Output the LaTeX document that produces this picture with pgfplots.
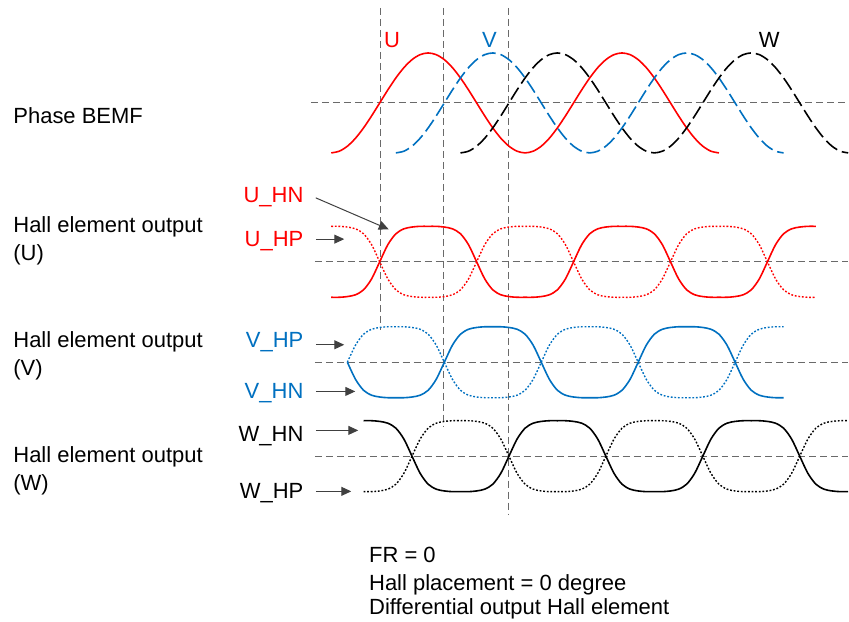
\documentclass[border=0pt]{standalone}
\usepackage{pgfplots}
\pgfplotsset{compat=1.18}
\usepackage{pgfplotstable}
\usepackage{fontspec}
\setmainfont{Liberation Sans}
\usetikzlibrary{arrows.meta}

\definecolor{phU}{HTML}{FF0000}
\definecolor{phV}{HTML}{0070C0}
\definecolor{refgray}{HTML}{6A6A6A}
\definecolor{arrgray}{HTML}{404040}

% phase BEMF, angle in electrical degrees (U, V, W share one shape)
\pgfplotstableread{
t tv tw s
-90 30 150 -1
-75 45 165 -0.9659
-60 60 180 -0.8660
-45 75 195 -0.7071
-30 90 210 -0.5
-15 105 225 -0.2588
0 120 240 0
15 135 255 0.2588
30 150 270 0.5
45 165 285 0.7071
60 180 300 0.8660
75 195 315 0.9659
90 210 330 1
105 225 345 0.9659
120 240 360 0.8660
135 255 375 0.7071
150 270 390 0.5
165 285 405 0.2588
180 300 420 0
195 315 435 -0.2588
210 330 450 -0.5
225 345 465 -0.7071
240 360 480 -0.8660
255 375 495 -0.9659
270 390 510 -1
285 405 525 -0.9659
300 420 540 -0.8660
315 435 555 -0.7071
330 450 570 -0.5
345 465 585 -0.2588
360 480 600 0
375 495 615 0.2588
390 510 630 0.5
405 525 645 0.7071
420 540 660 0.8660
435 555 675 0.9659
450 570 690 1
465 585 705 0.9659
480 600 720 0.8660
495 615 735 0.7071
510 630 750 0.5
525 645 765 0.2588
540 660 780 0
555 675 795 -0.2588
570 690 810 -0.5
585 705 825 -0.7071
600 720 840 -0.8660
615 735 855 -0.9659
630 750 870 -1
}\bemf

% hall element output, g = HN, n = HP
\pgfplotstableread{
phi pv pw g n
-270 -150 -30 1 -1
-255 -135 -15 1 -1
-240 -120 0 0.98 -0.98
-225 -105 15 0.93 -0.93
-210 -90 30 0.79 -0.79
-195 -75 45 0.48 -0.48
-180 -60 60 0 0
-165 -45 75 -0.48 0.48
-150 -30 90 -0.79 0.79
-135 -15 105 -0.93 0.93
-120 0 120 -0.98 0.98
-105 15 135 -1 1
-90 30 150 -1 1
-75 45 165 -1 1
-60 60 180 -0.98 0.98
-45 75 195 -0.93 0.93
-30 90 210 -0.79 0.79
-15 105 225 -0.48 0.48
0 120 240 0 0
15 135 255 0.48 -0.48
30 150 270 0.79 -0.79
45 165 285 0.93 -0.93
60 180 300 0.98 -0.98
75 195 315 1 -1
90 210 330 1 -1
105 225 345 1 -1
120 240 360 0.98 -0.98
135 255 375 0.93 -0.93
150 270 390 0.79 -0.79
165 285 405 0.48 -0.48
180 300 420 0 0
195 315 435 -0.48 0.48
210 330 450 -0.79 0.79
225 345 465 -0.93 0.93
240 360 480 -0.98 0.98
255 375 495 -1 1
270 390 510 -1 1
285 405 525 -1 1
300 420 540 -0.98 0.98
315 435 555 -0.93 0.93
330 450 570 -0.79 0.79
345 465 585 -0.48 0.48
360 480 600 0 0
375 495 615 0.48 -0.48
390 510 630 0.79 -0.79
405 525 645 0.93 -0.93
420 540 660 0.98 -0.98
435 555 675 1 -1
450 570 690 1 -1
465 585 705 1 -1
480 600 720 0.98 -0.98
495 615 735 0.93 -0.93
510 630 750 0.79 -0.79
525 645 765 0.48 -0.48
540 660 780 0 0
555 675 795 -0.48 0.48
570 690 810 -0.79 0.79
585 705 825 -0.93 0.93
600 720 840 -0.98 0.98
615 735 855 -1 1
630 750 870 -1 1
645 765 885 -1 1
660 780 900 -0.98 0.98
675 795 915 -0.93 0.93
690 810 930 -0.79 0.79
705 825 945 -0.48 0.48
720 840 960 0 0
735 855 975 0.48 -0.48
750 870 990 0.79 -0.79
765 885 1005 0.93 -0.93
780 900 1020 0.98 -0.98
795 915 1035 1 -1
810 930 1050 1 -1
}\hall

\pgfplotsset{
  layer/.style={width=424.5pt, height=311pt, scale only axis, hide axis,
    clip=false, at={(0,0)}, anchor=south west},
  wave/.style={layer, xmin=-705.1, xmax=870.4},
}
\tikzset{
  refline/.style={refgray, line width=0.5pt, dash pattern=on 3.5pt off 2pt},
  lbl/.style={font=\fontsize{11}{13}\selectfont, inner sep=0pt, anchor=base west},
  lblr/.style={lbl, anchor=base east},
  arr/.style={arrgray, line width=0.5pt, -{Triangle[length=5pt,width=4.5pt]}},
  solidw/.style={line width=0.8pt, smooth},
  longdash/.style={line width=0.8pt, smooth, dash pattern=on 7pt off 2.5pt},
  dotw/.style={line width=0.7pt, smooth, dash pattern=on 0.9pt off 0.9pt},
}

\begin{document}
\begin{tikzpicture}
% annotation layer, coordinates in image pixels (y downwards as negative)
\begin{axis}[layer, xmin=0, xmax=849, ymin=-622, ymax=0]
\path (axis cs:0,-622) rectangle (axis cs:849,0);
\draw[refline] (axis cs:311,-103) -- (axis cs:849,-103);
\draw[refline] (axis cs:315,-262) -- (axis cs:849,-262);
\draw[refline] (axis cs:315,-362.5) -- (axis cs:849,-362.5);
\draw[refline] (axis cs:315,-456.5) -- (axis cs:849,-456.5);
\draw[refline] (axis cs:380.5,-8) -- (axis cs:380.5,-330);
\draw[refline] (axis cs:443.5,-8) -- (axis cs:443.5,-427);
\draw[refline] (axis cs:508.5,-8) -- (axis cs:508.5,-515);

\node[lbl] at (axis cs:13,-124) {Phase BEMF};
\node[lbl] at (axis cs:13,-233) {Hall element output};
\node[lbl] at (axis cs:13,-261) {(U)};
\node[lbl] at (axis cs:13,-348) {Hall element output};
\node[lbl] at (axis cs:13,-376) {(V)};
\node[lbl] at (axis cs:13,-463) {Hall element output};
\node[lbl] at (axis cs:13,-491) {(W)};

\node[lblr, phU] at (axis cs:304,-203) {U\_HN};
\node[lblr, phU] at (axis cs:304,-247) {U\_HP};
\node[lblr, phV] at (axis cs:304,-348) {V\_HP};
\node[lblr, phV] at (axis cs:304,-399) {V\_HN};
\node[lblr] at (axis cs:304,-442) {W\_HN};
\node[lblr] at (axis cs:304,-499) {W\_HP};

\node[lbl, phU] at (axis cs:384,-48) {U};
\node[lbl, phV] at (axis cs:482,-48) {V};
\node[lbl] at (axis cs:759,-48) {W};

\draw[arr] (axis cs:316,-198) -- (axis cs:389,-229.5);
\draw[arr] (axis cs:316,-239.3) -- (axis cs:344.5,-239.3);
\draw[arr] (axis cs:316,-345) -- (axis cs:344.5,-345);
\draw[arr] (axis cs:316,-391.7) -- (axis cs:355.5,-391.7);
\draw[arr] (axis cs:316,-430.7) -- (axis cs:358.5,-430.7);
\draw[arr] (axis cs:316,-491.7) -- (axis cs:351.5,-491.7);

\node[lbl] at (axis cs:369,-563) {FR = 0};
\node[lbl] at (axis cs:369,-590.5) {Hall placement = 0 degree};
\node[lbl] at (axis cs:369,-615) {Differential output Hall element};
\end{axis}

% phase BEMF
\begin{axis}[wave, ymin=-10.38, ymax=2.06]
\addplot[phU, solidw] table[x=t, y=s] {\bemf};
\addplot[phV, longdash] table[x=tv, y=s] {\bemf};
\addplot[black, longdash] table[x=tw, y=s] {\bemf};
\end{axis}

% hall U
\begin{axis}[wave, ymin=-10.141, ymax=7.380]
\addplot[phU, solidw, restrict x to domain=-90:810] table[x=phi, y=g] {\hall};
\addplot[phU, dotw, restrict x to domain=-90:810] table[x=phi, y=n] {\hall};
\end{axis}

% hall V
\begin{axis}[wave, ymin=-7.310, ymax=10.211]
\addplot[phV, solidw, restrict x to domain=-60:750] table[x=pv, y=g] {\hall};
\addplot[phV, dotw, restrict x to domain=-60:750] table[x=pv, y=n] {\hall};
\end{axis}

% hall W
\begin{axis}[wave, ymin=-4.662, ymax=12.859]
\addplot[black, solidw, restrict x to domain=-30:870] table[x=pw, y=g] {\hall};
\addplot[black, dotw, restrict x to domain=-30:870] table[x=pw, y=n] {\hall};
\end{axis}
\end{tikzpicture}
\end{document}
